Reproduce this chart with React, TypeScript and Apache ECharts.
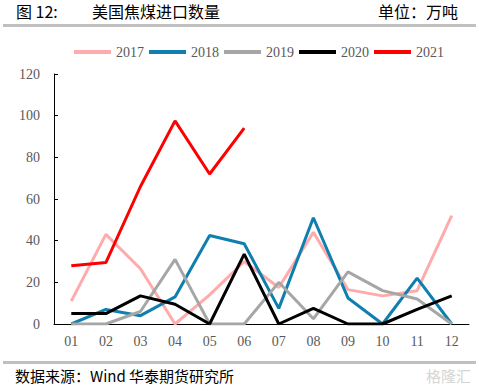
import React, { useEffect, useRef } from "react";
import * as echarts from "echarts";

const months = ["01", "02", "03", "04", "05", "06", "07", "08", "09", "10", "11", "12"];
const years = ["2017", "2018", "2019", "2020", "2021"];
const v2017 = [11, 43, 26.5, 0, 14, 30, 17.5, 44, 16.5, 13.5, 16, 52];
const v2018 = [0, 7, 4, 13, 42.5, 38.5, 7.5, 51, 12.5, 0, 22, 0];
const v2019 = [0, 0, 6, 31, 0, 0, 20, 2.5, 25, 16, 12, 0];
const v2020 = [5, 5, 13.5, 9.5, 0, 33.5, 0, 7.5, 0, 0, 7, 13.5];
const v2021 = [28, 29.5, 66, 97.5, 72, 94];
const colors = ["#FFABAB", "#0E7FAE", "#A6A6A6", "#000000", "#FF0000"];

export default function App() {
  const ref = useRef<HTMLDivElement>(null);
  useEffect(() => {
    document.body.style.margin = "0";
    const chart = echarts.init(ref.current!, undefined, { renderer: "svg" });
    const serif = "Liberation Serif";
    const cjk = "'Noto Sans CJK SC', sans-serif";
    const data = [v2017, v2018, v2019, v2020, v2021];
    chart.setOption({
      animation: false,
      backgroundColor: "#ffffff",
      color: colors,
      legend: {
        data: years,
        left: 69,
        top: 40,
        icon: "rect",
        itemWidth: 37,
        itemHeight: 4,
        itemGap: 5,
        textStyle: { fontFamily: serif, fontSize: 14, color: "#595959" },
      },
      grid: { left: 54, right: 10, top: 74, bottom: 67, containLabel: false },
      xAxis: {
        type: "category",
        data: months,
        boundaryGap: true,
        axisLine: { lineStyle: { color: "#000", width: 1 } },
        axisTick: { inside: true, length: 4, lineStyle: { color: "#000" } },
        axisLabel: { fontFamily: serif, fontSize: 14, color: "#595959", margin: 10 },
      },
      yAxis: {
        type: "value",
        min: 0,
        max: 120,
        interval: 20,
        splitLine: { show: false },
        axisLine: { show: true, lineStyle: { color: "#000", width: 1 } },
        axisTick: { show: true, inside: true, length: 4, lineStyle: { color: "#000" } },
        axisLabel: { fontFamily: serif, fontSize: 14, color: "#595959", margin: 14 },
      },
      series: years.map((y, i) => ({
        name: y,
        type: "line",
        data: data[i],
        symbol: "none",
        lineStyle: { width: 3, color: colors[i] },
        itemStyle: { color: colors[i] },
        z: i + 1,
      })),
      graphic: [
        { type: "text", left: 16, top: 3, style: { text: "图 12:", font: `16px ${cjk}`, fill: "#000" } },
        { type: "text", left: 92, top: 3, style: { text: "美国焦煤进口数量", font: `16px ${cjk}`, fill: "#000" } },
        { type: "text", right: 21, top: 3, style: { text: "单位：万吨", font: `16px ${cjk}`, fill: "#000" } },
        { type: "rect", shape: { x: 3, y: 24, width: 473, height: 3 }, style: { fill: "#C0C0C0" } },
        { type: "rect", shape: { x: 3, y: 361, width: 473, height: 3 }, style: { fill: "#C0C0C0" } },
        { type: "text", left: 15, top: 368, style: { text: "数据来源：Wind 华泰期货研究所", font: `15px ${cjk}`, fill: "#000" } },
        { type: "text", right: 8, top: 368, style: { text: "格隆汇", font: `15px ${cjk}`, fill: "#D5D5D5" } },
      ],
    });
    return () => chart.dispose();
  }, []);
  return <div ref={ref} style={{ width: 479, height: 391 }} />;
}
